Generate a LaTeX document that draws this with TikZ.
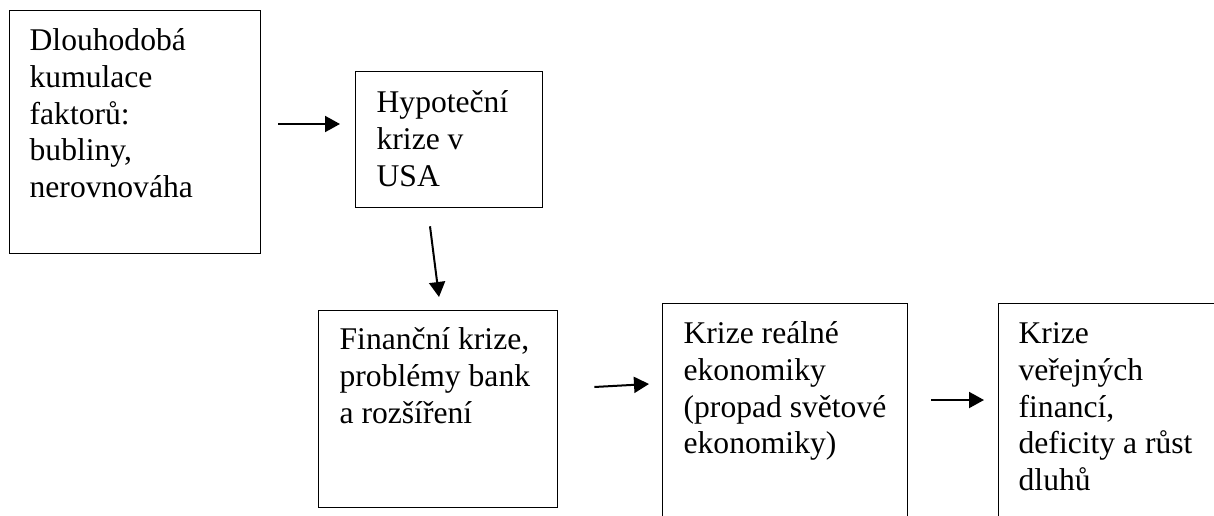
\documentclass[tikz,border=0pt]{standalone}
\usepackage{fontspec}
\setmainfont{Liberation Serif}
\usetikzlibrary{arrows.meta,calc}

% text of a box: width, height, first baseline, lines
\newcommand\obsah[4]{\parbox[t][#2][t]{#1}{\rule{0pt}{#3}#4}}

\tikzset{
  krabice/.style={draw, line width=1.3pt, anchor=north west,
    inner xsep=#1, inner ysep=0pt, align=left},
  sipka/.style={line width=2pt, -{Triangle[length=15pt,width=16pt]}}
}

\begin{document}
\begin{tikzpicture}[x=1pt,y=-1pt,font=\fontsize{31.6}{36.7}\selectfont]
  \clip (0,0) rectangle (1214,516);
  \node[krabice=20pt] (dlouhodoba) at (9,10)
    {\obsah{211pt}{243pt}{40pt}{Dlouhodobá\\kumulace\\faktorů:\\bubliny,\\nerovnováha}};
  \node[krabice=21pt] (hypotecni) at (355,71)
    {\obsah{145pt}{136pt}{41pt}{Hypoteční\\krize v\\USA}};
  \node[krabice=21pt] (financni) at (318,310)
    {\obsah{197pt}{197pt}{39pt}{Finanční krize,\\problémy bank\\a rozšíření}};
  \node[krabice=21pt] (realna) at (662,303)
    {\obsah{203pt}{260pt}{40pt}{Krize reálné\\ekonomiky\\(propad světové\\ekonomiky)}};
  \node[krabice=20pt] (verejne) at (998,303)
    {\obsah{222pt}{260pt}{40pt}{Krize\\veřejných\\financí,\\deficity a růst\\dluhů}};

  \draw[sipka] ($(dlouhodoba.north east)+(17,114)$) -- ($(hypotecni.north west)+(-15,53)$);
  \draw[sipka] ($(hypotecni.south west)+(75,18)$) -- ($(financni.north west)+(121,-13)$);
  \draw[sipka] ($(financni.north east)+(36,77)$) -- ($(realna.north west)+(-13,81)$);
  \draw[sipka] ($(realna.north east)+(23,97)$) -- ($(verejne.north west)+(-14,97)$);
\end{tikzpicture}
\end{document}
